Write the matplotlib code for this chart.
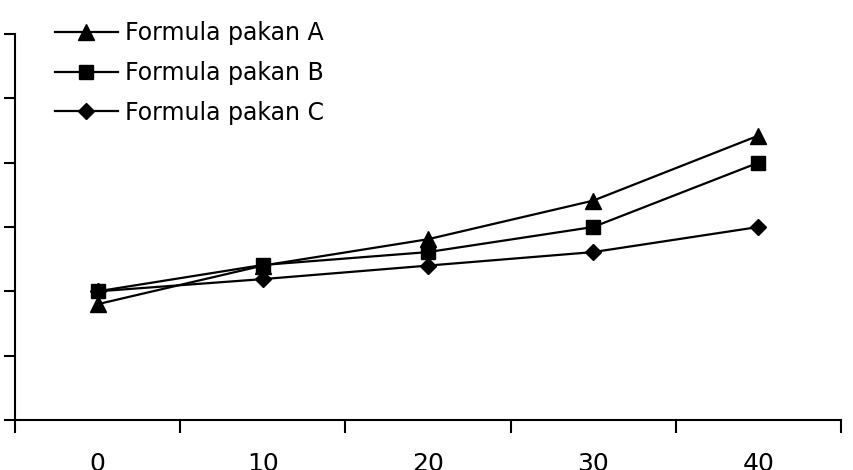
import matplotlib.pyplot as plt
from matplotlib.ticker import FixedLocator

# Days / levels on x axis
categories = ['0', '10', '20', '30', '40']
pakan_a = [1.80, 2.40, 2.81, 3.41, 4.42]
pakan_b = [2.00, 2.41, 2.61, 3.00, 4.00]
pakan_c = [2.00, 2.19, 2.40, 2.61, 3.00]

fig = plt.figure(figsize=(8.54, 4.70), dpi=100)
ax = fig.add_axes([15 / 854, 1 - 420 / 470, 826 / 854, 386 / 470])

x = range(len(categories))
ax.plot(x, pakan_a, color='black', lw=1.6, marker='^', ms=11, label='Formula pakan A')
ax.plot(x, pakan_b, color='black', lw=1.6, marker='s', ms=10, label='Formula pakan B')
ax.plot(x, pakan_c, color='black', lw=1.6, marker='D', ms=8, label='Formula pakan C')

ax.set_xlim(-0.5, len(categories) - 0.5)
ax.set_ylim(0, 6)

# category labels centred, tick marks at boundaries
ax.set_xticks(list(x))
ax.set_xticklabels(categories, fontsize=18)
ax.tick_params(axis='x', which='major', length=0, pad=23)
ax.xaxis.set_minor_locator(FixedLocator([i - 0.5 for i in range(len(categories) + 1)]))
ax.tick_params(axis='x', which='minor', length=9, width=1.5, direction='out')

ax.set_yticks(range(7))
ax.set_yticklabels([])
ax.tick_params(axis='y', length=8, width=1.5, direction='out')

for s in ['top', 'right']:
    ax.spines[s].set_visible(False)
for s in ['left', 'bottom']:
    ax.spines[s].set_linewidth(1.5)

ax.legend(loc='upper left', bbox_to_anchor=(55 / 854, 1 - 21 / 470),
          bbox_transform=fig.transFigure, frameon=False, fontsize=17,
          handlelength=2.65, handletextpad=0.33, labelspacing=0.67,
          borderaxespad=0, borderpad=0)

fig.savefig('out.png', dpi=100)
